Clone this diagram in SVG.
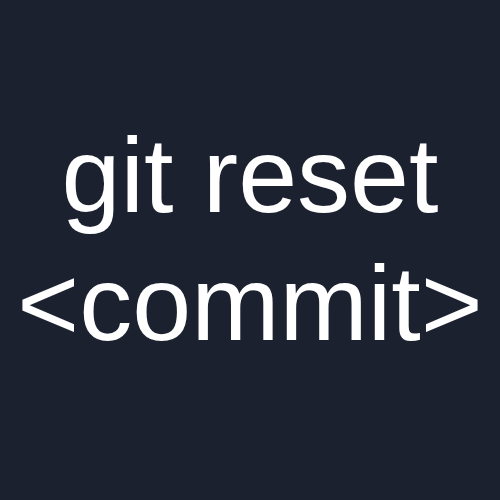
<svg xmlns="http://www.w3.org/2000/svg" width="500" height="500" viewBox="0 0 500 500">
<style>
.t{font-family:"Liberation Sans",Arial,sans-serif;font-size:106px;fill:#ffffff;text-anchor:middle}
</style>
<rect x="0" y="0" width="500" height="500" fill="#1c2130"/>
<g id="title">
<text class="t" x="250" y="212">git reset</text>
<text class="t" x="250" y="340">&lt;commit&gt;</text>
</g>
</svg>
